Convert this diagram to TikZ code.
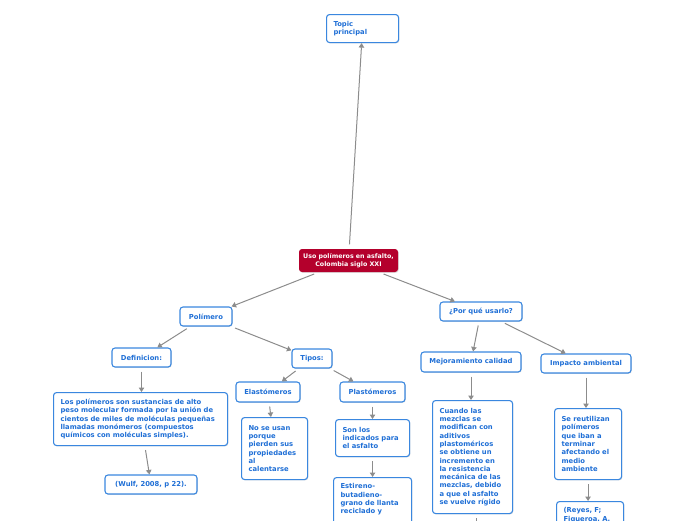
\documentclass[tikz,border=0pt]{standalone}
\usepackage{fontspec}
\setmainfont{DejaVu Sans}
\usetikzlibrary{arrows.meta,shadows}
\definecolor{boxblue}{HTML}{3A87DF}
\definecolor{txtblue}{HTML}{1F6FD6}
\definecolor{rootred}{HTML}{B4002C}
\definecolor{conngray}{HTML}{8C8C8C}
\tikzset{
  box/.style={draw=boxblue, line width=1.1pt, rounded corners=3pt, fill=white,
    text=txtblue, font=\fontsize{6.8}{8.3}\selectfont\bfseries,
    drop shadow={shadow xshift=0.8pt, shadow yshift=-0.8pt, opacity=0.25, fill=gray},
    inner sep=0pt, align=center},
  tbox/.style={box, align=left, inner xsep=7pt, inner ysep=6pt, anchor=north west},
  rootbox/.style={box, draw=none, fill=rootred, text=white, font=\fontsize{6.3}{7.4}\selectfont\bfseries},
  conn/.style={draw=conngray, line width=1pt, -{Triangle[width=5.5pt,length=4.5pt]}, shorten <=4pt}
}
\begin{document}
\begin{tikzpicture}[x=1pt,y=-1pt]
\useasboundingbox (0,0) rectangle (696,520);
\clip (0,0) rectangle (696,520);
% nodes
\node[tbox, minimum width=72pt, minimum height=28pt, text width=58pt] (topic) at (326,14) {Topic\\principal};
\node[rootbox, minimum width=99pt, minimum height=23pt] (root) at (348.5,260.5) {Uso polímeros en asfalto,\\Colombia siglo XXI};
\node[box, minimum width=52pt, minimum height=19pt] (pol) at (206,316.5) {Polímero};
\node[box, minimum width=82pt, minimum height=19pt] (porq) at (481,311.5) {¿Por qué usarlo?};
\node[box, minimum width=59pt, minimum height=19pt] (defi) at (141.5,357.5) {Definicion:};
\node[box, minimum width=40pt, minimum height=19pt] (tipos) at (312,358.5) {Tipos:};
\node[box, minimum width=64pt, minimum height=20pt] (elas) at (268,392) {Elastómeros};
\node[box, minimum width=65pt, minimum height=20pt] (plas) at (372.5,392) {Plastómeros};
\node[box, minimum width=100pt, minimum height=20pt] (mejor) at (471,362) {Mejoramiento calidad};
\node[box, minimum width=90pt, minimum height=19pt] (impac) at (586,363.5) {Impacto ambiental};
\node[tbox, minimum width=174pt, minimum height=53pt, text width=160pt] (deflong) at (53,392) {Los polímeros son sustancias de alto\\peso molecular formada por la unión de\\cientos de miles de moléculas pequeñas\\llamadas monómeros (compuestos\\químicos con moléculas simples).};
\node[box, minimum width=92pt, minimum height=19pt] (wulf) at (151,484.5) {(Wulf, 2008, p 22).};
\node[tbox, minimum width=66pt, minimum height=62pt, text width=52pt] (nose) at (241,417) {No se usan\\porque\\pierden sus\\propiedades\\al\\calentarse};
\node[tbox, minimum width=74pt, minimum height=37pt, text width=60pt] (son) at (335,419) {Son los\\indicados para\\el asfalto};
\node[tbox, minimum width=78pt, minimum height=70pt, text width=64pt] (esti) at (333,477) {Estireno-\\butadieno-\\grano de llanta\\reciclado y\rule[-30pt]{0pt}{30pt}};
\node[tbox, minimum width=80pt, minimum height=113pt, text width=66pt] (cuan) at (432,400) {Cuando las\\mezclas se\\modifican con\\aditivos\\plastoméricos\\se obtiene un\\incremento en\\la resistencia\\mecánica de las\\mezclas, debido\\a que el asfalto\\se vuelve rígido};
\node[tbox, minimum width=67pt, minimum height=71pt, text width=53pt] (reut) at (554,408) {Se reutilizan\\polímeros\\que iban a\\terminar\\afectando el\\medio\\ambiente};
\node[tbox, minimum width=67pt, minimum height=50pt, text width=53pt] (reyes) at (556,501) {(Reyes, F;\\Figueroa, A.\rule[-30pt]{0pt}{30pt}};
\coordinate (below) at (476,530);
% connectors
\draw[conn] (root) -- (topic);
\draw[conn] (root) -- (pol);
\draw[conn] (root) -- (porq);
\draw[conn] (pol) -- (defi);
\draw[conn] (pol) -- (tipos);
\draw[conn] (tipos) -- (elas);
\draw[conn] (tipos) -- (plas);
\draw[conn] (defi.south) -- (deflong.north -| defi.south);
\draw[conn] (deflong) -- (wulf);
\draw[conn] (elas) -- (nose);
\draw[conn] (plas.south) -- (son.north -| plas.south);
\draw[conn] (son.south) -- (esti.north -| son.south);
\draw[conn] (porq) -- (mejor);
\draw[conn] (porq) -- (impac);
\draw[conn] (mejor.south) -- (cuan.north -| mejor.south);
\draw[conn] (impac.south) -- (reut.north -| impac.south);
\draw[conn] (reut.south) -- (reyes.north -| reut.south);
\draw[conn] (cuan.south -| below) -- (below);
\end{tikzpicture}
\end{document}
